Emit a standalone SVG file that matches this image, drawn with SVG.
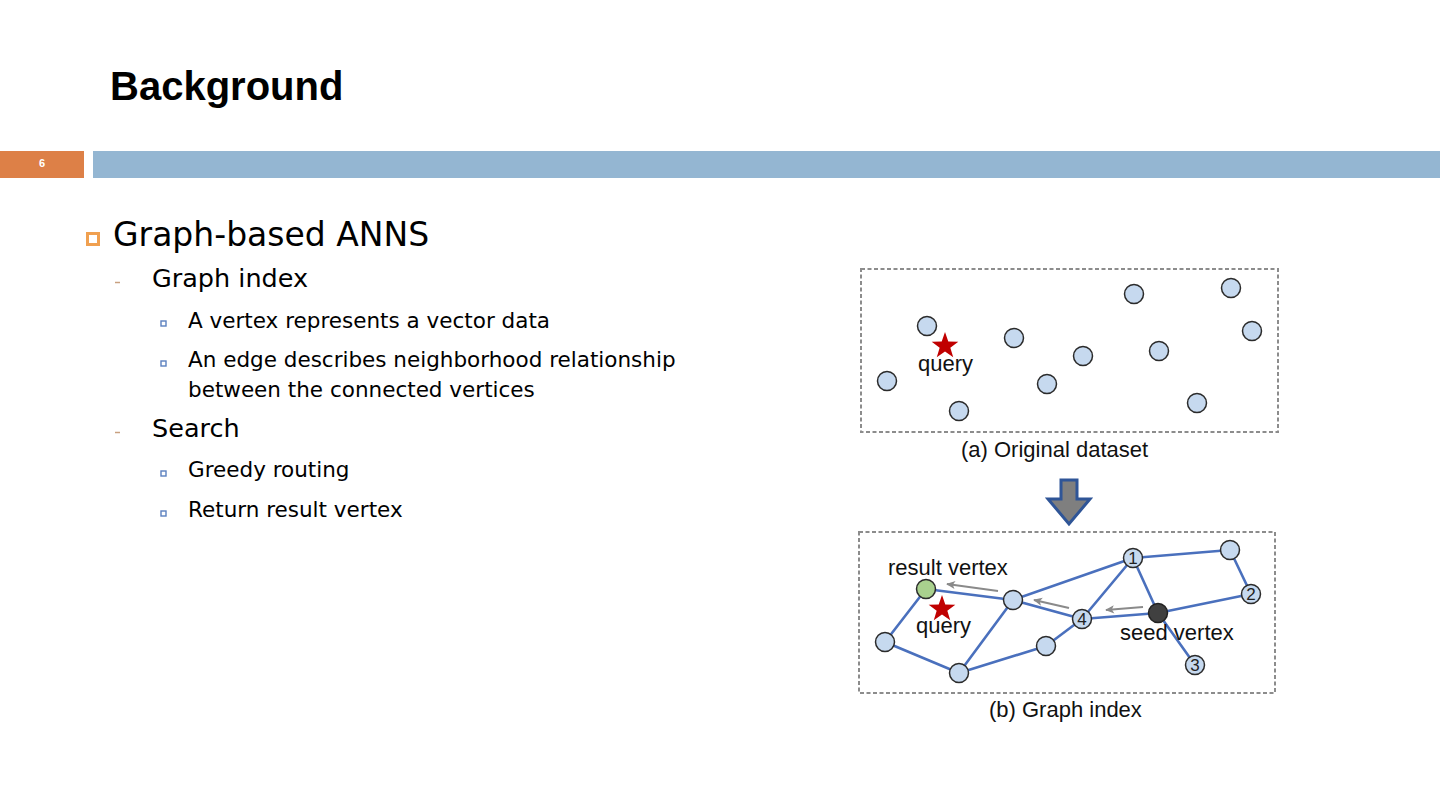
<svg xmlns="http://www.w3.org/2000/svg" width="1440" height="810" viewBox="0 0 1440 810">
<style>
.body{font-family:"DejaVu Sans","Noto Sans",sans-serif;fill:#000}
.fig{font-family:"Liberation Sans",Arial,sans-serif;fill:#111;font-size:22px}
.num{font-family:"Liberation Sans",Arial,sans-serif;fill:#222;font-size:17px;text-anchor:middle}
.nd{fill:#c6d9ef;stroke:#2b2b2b;stroke-width:1.5}
.edge{stroke:#4a70bd;stroke-width:2.6;fill:none;stroke-linecap:round}
.move{stroke:#8a8a8a;stroke-width:2;fill:none}
.box{fill:none;stroke:#8c8c8c;stroke-width:2;stroke-dasharray:4 2.5}
.star{fill:#c00000}
.sq{fill:none;stroke:#5b80bf;stroke-width:1.4}
</style>
<defs>
<marker id="ah" viewBox="0 0 10 10" refX="9" refY="5" markerWidth="10" markerHeight="9" orient="auto" markerUnits="userSpaceOnUse">
<path d="M0,0.5 L10,5 L0,9.5 L2.5,5 Z" fill="#8a8a8a"/>
</marker>
<polygon id="starshape" points="0,-14 3.29,-4.53 13.31,-4.33 5.33,1.73 8.23,11.33 0,5.6 -8.23,11.33 -5.33,1.73 -13.31,-4.33 -3.29,-4.53"/>
</defs>
<rect width="1440" height="810" fill="#fff"/>

<g id="header">
<text x="110" y="100" font-family="Liberation Sans, Arial, sans-serif" font-weight="bold" font-size="40" fill="#000">Background</text>
<rect x="0" y="151" width="84" height="27" fill="#dd8047"/>
<rect x="93" y="151" width="1347" height="27" fill="#94b6d2"/>
<text x="39" y="167" font-family="Liberation Sans, Arial, sans-serif" font-weight="bold" font-size="11" fill="#fff">6</text>
</g>

<g id="bullets">
<rect x="87.5" y="233.5" width="11" height="11" fill="none" stroke="#f0a050" stroke-width="3"/>
<text class="body" x="113" y="246" font-size="33">Graph-based ANNS</text>
<line x1="115" y1="282.5" x2="120" y2="282.5" stroke="#c8a080" stroke-width="1.5"/>
<text class="body" x="152" y="287" font-size="25.5">Graph index</text>
<rect class="sq" x="161" y="321" width="5" height="5"/>
<text class="body" x="188" y="328" font-size="21.5">A vertex represents a vector data</text>
<rect class="sq" x="161" y="361" width="5" height="5"/>
<text class="body" x="188" y="367" font-size="21.5">An edge describes neighborhood relationship</text>
<text class="body" x="188" y="397" font-size="21.5">between the connected vertices</text>
<line x1="115" y1="432.5" x2="120" y2="432.5" stroke="#c8a080" stroke-width="1.5"/>
<text class="body" x="152" y="437" font-size="25.5">Search</text>
<rect class="sq" x="161" y="471" width="5" height="5"/>
<text class="body" x="188" y="477" font-size="21.5">Greedy routing</text>
<rect class="sq" x="161" y="511" width="5" height="5"/>
<text class="body" x="188" y="517" font-size="21.5">Return result vertex</text>
</g>

<g id="panel-a">
<rect class="box" x="861" y="269" width="417" height="163"/>
<circle class="nd" cx="1134" cy="294" r="9.5"/>
<circle class="nd" cx="1231" cy="288" r="9.5"/>
<circle class="nd" cx="927" cy="326" r="9.5"/>
<circle class="nd" cx="1252" cy="331" r="9.5"/>
<circle class="nd" cx="1014" cy="338" r="9.5"/>
<circle class="nd" cx="1159" cy="351" r="9.5"/>
<circle class="nd" cx="1083" cy="356" r="9.5"/>
<circle class="nd" cx="887" cy="381" r="9.5"/>
<circle class="nd" cx="1047" cy="384" r="9.5"/>
<circle class="nd" cx="1197" cy="403" r="9.5"/>
<circle class="nd" cx="959" cy="411" r="9.5"/>
<use href="#starshape" class="star" x="945" y="346"/>
<text class="fig" x="918" y="371">query</text>
<text class="fig" x="961" y="457">(a) Original dataset</text>
</g>

<g id="big-arrow">
<polygon points="1061,480 1077,480 1077,499 1090,499 1069,524 1048,499 1061,499" fill="#7f7f7f" stroke="#2f5597" stroke-width="3" stroke-linejoin="miter"/>
</g>

<g id="connectors">
<line class="edge" x1="926" y1="589" x2="1013" y2="600"/>
<line class="edge" x1="926" y1="589" x2="885" y2="642"/>
<line class="edge" x1="885" y1="642" x2="959" y2="673"/>
<line class="edge" x1="959" y1="673" x2="1013" y2="600"/>
<line class="edge" x1="959" y1="673" x2="1046" y2="646"/>
<line class="edge" x1="1046" y1="646" x2="1082" y2="619"/>
<line class="edge" x1="1013" y1="600" x2="1133" y2="558"/>
<line class="edge" x1="1013" y1="600" x2="1082" y2="619"/>
<line class="edge" x1="1082" y1="619" x2="1133" y2="558"/>
<line class="edge" x1="1082" y1="619" x2="1158" y2="613"/>
<line class="edge" x1="1133" y1="558" x2="1158" y2="613"/>
<line class="edge" x1="1133" y1="558" x2="1230" y2="550"/>
<line class="edge" x1="1230" y1="550" x2="1251" y2="594"/>
<line class="edge" x1="1158" y1="613" x2="1251" y2="594"/>
<line class="edge" x1="1158" y1="613" x2="1195" y2="665"/>
<line class="move" x1="998" y1="591" x2="947" y2="584" marker-end="url(#ah)"/>
<line class="move" x1="1069" y1="608" x2="1034" y2="600" marker-end="url(#ah)"/>
<line class="move" x1="1143" y1="607" x2="1106" y2="610" marker-end="url(#ah)"/>
</g>

<g id="panel-b">
<rect class="box" x="859" y="532" width="416" height="161"/>
<g id="n-result"><circle cx="926" cy="589" r="9.5" fill="#a9d18e" stroke="#2b2b2b" stroke-width="1.5"/></g>
<g id="n-mid"><circle class="nd" cx="1013" cy="600" r="9.5"/></g>
<g id="n-left"><circle class="nd" cx="885" cy="642" r="9.5"/></g>
<g id="n-bottom"><circle class="nd" cx="959" cy="673" r="9.5"/></g>
<g id="n-low"><circle class="nd" cx="1046" cy="646" r="9.5"/></g>
<g id="n-topright"><circle class="nd" cx="1230" cy="550" r="9.5"/></g>
<g id="n-1"><circle class="nd" cx="1133" cy="558" r="9.5"/><text class="num" x="1133" y="564">1</text></g>
<g id="n-2"><circle class="nd" cx="1251" cy="594" r="9.5"/><text class="num" x="1251" y="600">2</text></g>
<g id="n-3"><circle class="nd" cx="1195" cy="665" r="9.5"/><text class="num" x="1195" y="671">3</text></g>
<g id="n-4"><circle class="nd" cx="1082" cy="619" r="9.5"/><text class="num" x="1082" y="625">4</text></g>
<g id="n-seed"><circle cx="1158" cy="613" r="9.5" fill="#404040" stroke="#222" stroke-width="1.5"/></g>
<use href="#starshape" class="star" x="942" y="609"/>
<text class="fig" x="888" y="575">result vertex</text>
<text class="fig" x="916" y="633">query</text>
<text class="fig" x="1120" y="640">seed vertex</text>
<text class="fig" x="989" y="717">(b) Graph index</text>
</g>
</svg>
